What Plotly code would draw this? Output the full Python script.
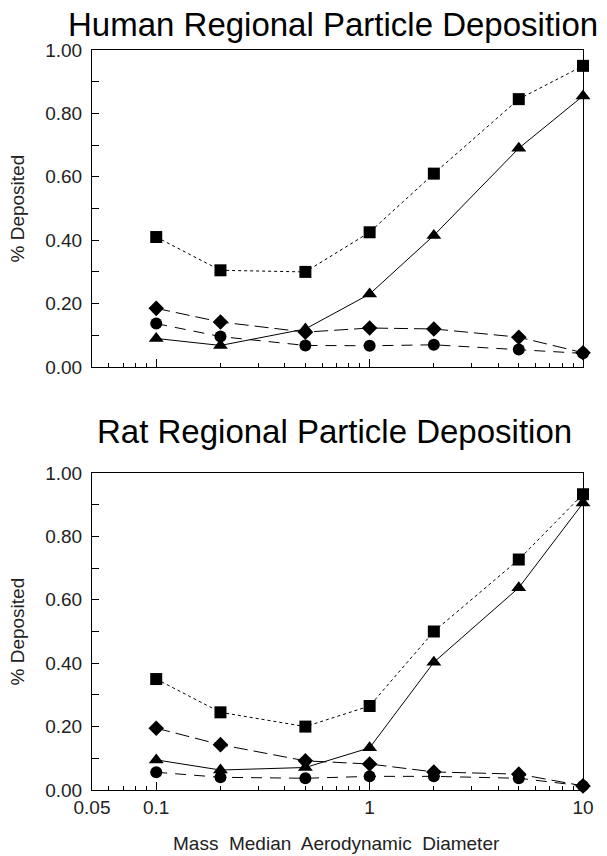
import plotly.graph_objects as go
from plotly.subplots import make_subplots

diameter = [0.1, 0.2, 0.5, 1, 2, 5, 10]

human_square = [0.41, 0.305, 0.30, 0.425, 0.61, 0.845, 0.95]
human_triangle = [0.09, 0.068, 0.12, 0.23, 0.415, 0.69, 0.855]
human_diamond = [0.185, 0.142, 0.11, 0.123, 0.12, 0.094, 0.045]
human_circle = [0.137, 0.096, 0.068, 0.067, 0.07, 0.055, 0.043]

rat_square = [0.35, 0.245, 0.20, 0.265, 0.50, 0.727, 0.933]
rat_triangle = [0.095, 0.063, 0.071, 0.133, 0.403, 0.638, 0.905]
rat_diamond = [0.195, 0.143, 0.092, 0.082, 0.057, 0.05, 0.013]
rat_circle = [0.056, 0.04, 0.037, 0.043, 0.043, 0.037, 0.013]

titles = ["Human Regional Particle Deposition", "Rat Regional Particle Deposition"]
y_title = "% Deposited"
x_title = "Mass  Median  Aerodynamic  Diameter"
x_tickvals = [0.05, 0.1, 1, 10]
x_ticktext = ["0.05", "0.1", "1", "10"]
x_minor = [0.06, 0.07, 0.08, 0.09, 0.2, 0.3, 0.4, 0.5, 0.6, 0.7, 0.8, 0.9,
           2, 3, 4, 5, 6, 7, 8, 9]
y_tickvals = [0, 0.2, 0.4, 0.6, 0.8, 1.0]
y_ticktext = ["0.00", "0.20", "0.40", "0.60", "0.80", "1.00"]

FONT = "Liberation Sans, Arial, sans-serif"
W, H = 607, 856

fig = make_subplots(rows=2, cols=1)

styles = [
    ("square", 12, "3px,3px"),
    ("triangle-up", 13, "solid"),
    ("diamond", 12, "14px,6px"),
    ("circle", 12, "11px,8px"),
]

for row, series in ((1, [human_square, human_triangle, human_diamond, human_circle]),
                    (2, [rat_square, rat_triangle, rat_diamond, rat_circle])):
    for vals, (sym, size, dash) in zip(series, styles):
        fig.add_trace(go.Scatter(
            x=diameter, y=vals, mode="lines+markers",
            line=dict(color="black", width=1, dash=dash),
            marker=dict(symbol=sym, size=size, color="black"),
            showlegend=False, cliponaxis=False,
        ), row=row, col=1)

x0, x1 = 92 / W, 583 / W
doms = [(1 - 367 / H, 1 - 50 / H), (1 - 790 / H, 1 - 473 / H)]

for row, dom in zip((1, 2), doms):
    fig.update_xaxes(
        type="log", range=[-1.30103, 1.0], domain=[x0, x1], automargin=False,
        showline=True, linecolor="black", linewidth=1, mirror=True,
        showgrid=False, zeroline=False,
        tickmode="array", tickvals=x_tickvals, ticktext=x_ticktext,
        ticks="inside", ticklen=8, tickcolor="black",
        showticklabels=(row == 2),
        tickfont=dict(family=FONT, size=19, color="#222"),
        minor=dict(tickmode="array", tickvals=x_minor, ticks="inside",
                   ticklen=4, tickcolor="black", showgrid=False),
        row=row, col=1)
    fig.update_yaxes(
        range=[0, 1.0], domain=list(dom), automargin=False,
        showline=True, linecolor="black", linewidth=1, mirror=True,
        showgrid=False, zeroline=False,
        tickmode="array", tickvals=y_tickvals, ticktext=y_ticktext,
        ticks="inside", ticklen=7, tickcolor="black", ticklabelstandoff=5,
        tickfont=dict(family=FONT, size=19, color="#222"),
        minor=dict(tickmode="array", tickvals=[0.1, 0.3, 0.5, 0.7, 0.9],
                   ticks="inside", ticklen=7, tickcolor="black", showgrid=False),
        row=row, col=1)

annotations = [
    dict(text=titles[0], x=333 / W, y=1 - 25 / H, xref="paper", yref="paper",
         showarrow=False, font=dict(family=FONT, size=33, color="black"),
         xanchor="center", yanchor="middle"),
    dict(text=titles[1], x=334 / W, y=1 - 432 / H, xref="paper", yref="paper",
         showarrow=False, font=dict(family=FONT, size=33, color="black"),
         xanchor="center", yanchor="middle"),
    dict(text=y_title, x=17 / W, y=1 - 208.5 / H, xref="paper", yref="paper",
         showarrow=False, textangle=-90,
         font=dict(family=FONT, size=19, color="#222"),
         xanchor="center", yanchor="middle"),
    dict(text=y_title, x=17 / W, y=1 - 631.5 / H, xref="paper", yref="paper",
         showarrow=False, textangle=-90,
         font=dict(family=FONT, size=19, color="#222"),
         xanchor="center", yanchor="middle"),
    dict(text=x_title, x=337 / W, y=1 - 843 / H, xref="paper", yref="paper",
         showarrow=False, font=dict(family=FONT, size=19, color="#222"),
         xanchor="center", yanchor="middle"),
]

fig.update_layout(
    width=W, height=H,
    margin=dict(l=0, r=0, t=0, b=0),
    paper_bgcolor="white", plot_bgcolor="white",
    annotations=annotations,
    showlegend=False,
)

fig.write_html(
    "out.html",
    config={"displayModeBar": False},
    post_script="document.body.style.margin='0';document.body.style.overflow='hidden';",
)
